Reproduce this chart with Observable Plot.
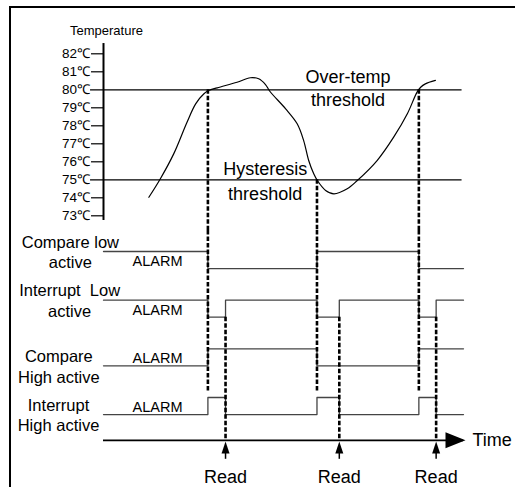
<!DOCTYPE html>
<html><head><meta charset="utf-8">
<script src="https://cdn.jsdelivr.net/npm/d3@7"></script>
<script src="https://cdn.jsdelivr.net/npm/@observablehq/plot@0.6"></script>
<style>
body{margin:0;background:#fff;}
#wrap{position:relative;width:515px;height:487px;overflow:hidden;font-family:"Liberation Sans",Arial,sans-serif;background:#fff;}
#frame{position:absolute;left:9px;top:6px;width:600px;height:600px;border-left:2px solid #000;border-top:2px solid #000;}
#top,#bottom{position:absolute;left:0;}
#top{top:0}
#bottom{top:230px}
svg text{white-space:pre;}
</style></head><body>
<div id="wrap"><div id="frame"></div><div id="top"></div><div id="bottom"></div></div>
<script>
// ---------- data ----------
const tempTicks = [73, 74, 75, 76, 77, 78, 79, 80, 81, 82];
const thresholdValues = [80, 75];
const thresholdNames = ["Over-temp\nthreshold", "Hysteresis\nthreshold"];
const curveTime = [12.6, 15.8, 19.5, 23.2, 25.6, 27.9, 29.2, 31.6, 37.1, 40.8, 43.1, 45.0, 46.2, 50.6, 53.8, 55.6, 57.0, 58.4, 59.4, 61.7, 64.0, 67.7, 70.5, 76.0, 80.6, 84.4, 87.1, 88.1, 89.4, 92.2];
const curveTemp = [74.03, 75.06, 76.44, 78.2, 79.22, 79.78, 79.96, 80.11, 80.42, 80.67, 80.61, 80.29, 79.92, 78.94, 78.11, 77.18, 76.07, 75.33, 74.96, 74.41, 74.22, 74.5, 74.96, 76.07, 77.37, 78.67, 79.87, 80.14, 80.33, 80.52];
const crossTimes = [29.0, 59.3, 87.6];
const crossTemps = [80, 75, 80];
const readTimes = [33.9, 65.5, 92.4];
const stepTimes = [0, 29.0, 33.9, 59.3, 65.5, 87.6, 92.4, 100];
const laneNames = ["Compare low\nactive", "Interrupt  Low\nactive", "Compare\nHigh active", "Interrupt\nHigh active"];
const compareLow    = [1, 0, 0, 1, 1, 0, 0, 0];
const interruptLow  = [1, 0, 1, 0, 1, 0, 1, 1];
const compareHigh   = [0, 1, 1, 0, 0, 1, 1, 1];
const interruptHigh = [0, 1, 0, 1, 0, 1, 0, 0];
const alarmText = "ALARM";

// ---------- layout ----------
const FONT = '"Liberation Sans", Arial, sans-serif';
const TOP_H = 230, BOT_H = 257;
const X = {domain: [0, 100], range: [103, 463], axis: null};
const T_PX = 18; // px per degree
const T_BOTTOM = 80 - (TOP_H - 89.3) / T_PX;
const AMP = 0.35;
const AXIS_Y = 3.88;
const LANE_TOP = -21 / 48.67;
const laneLabelX = [-9.2, -9.4, -12.4, -12.5];
const style = {background: "transparent", overflow: "visible", fontFamily: FONT, color: "#000"};

const curve = curveTime.map((t, i) => ({t, temp: curveTemp[i]}));
const thresholds = thresholdValues.map((v, i) => ({value: v, name: thresholdNames[i]}));
const crossings = crossTimes.map((t, i) => ({t, temp: crossTemps[i]}));
const laneLevels = [compareLow, interruptLow, compareHigh, interruptHigh];
const lanes = laneLevels.flatMap((lv, i) => stepTimes.map((t, j) => ({lane: i, t, y: i + (1 - lv[j]) * AMP})));
const laneInfo = laneNames.map((name, i) => ({name, i, y0: i + (1 - laneLevels[i][0]) * AMP}));

const topPlot = Plot.plot({
  width: 515, height: TOP_H, margin: 0,
  x: X,
  y: {domain: [80, 75], range: [89.3, 179.3], axis: null},
  style,
  marks: [
    Plot.text(["Temperature"], {x: 0.83, y: 83.25, text: d => d, fontSize: 13, textAnchor: "middle"}),
    Plot.ruleX([0], {y1: 82.57, y2: 72.74, strokeWidth: 2}),
    Plot.ruleY(tempTicks.filter(d => !thresholdValues.includes(d)), {y: d => d, x1: -3.33, x2: 0, strokeWidth: 1.2}),
    Plot.text(tempTicks, {x: -3.75, y: d => d, text: d => d + "\u2103", textAnchor: "end", fontSize: 13.5}),
    Plot.ruleY(thresholds, {y: "value", x1: -3.6, x2: 99.6, strokeWidth: 1.2}),
    Plot.line(curve, {x: "t", y: "temp", curve: "catmull-rom", strokeWidth: 1.2}),
    Plot.ruleX(crossings, {x: "t", y1: "temp", y2: T_BOTTOM, strokeWidth: 2.6, strokeDasharray: "4.5,2"}),
    Plot.text([thresholds[0]], {x: 67.9, y: "value", text: "name", fontSize: 18, lineHeight: 1.32, dy: -3}),
    Plot.text([thresholds[1]], {x: 44.9, y: "value", text: "name", fontSize: 18, lineHeight: 1.38, dy: 0})
  ]
});
document.getElementById("top").appendChild(topPlot);

const botPlot = Plot.plot({
  width: 515, height: BOT_H, margin: 0,
  x: X,
  y: {domain: [0, 3], range: [21, 167], axis: null},
  style,
  marks: [
    Plot.line(lanes, {x: "t", y: "y", z: "lane", curve: "step-after", stroke: "#444", strokeWidth: 1.3}),
    Plot.ruleX(crossTimes, {x: d => d, y1: LANE_TOP, y2: 2.9, strokeWidth: 2.6, strokeDasharray: "4.5,2"}),
    Plot.ruleX(readTimes, {x: d => d, y1: 1 + AMP, y2: AXIS_Y, strokeWidth: 2.6, strokeDasharray: "4.5,2"}),
    Plot.ruleY([AXIS_Y], {x1: 0, x2: 100, strokeWidth: 1.6}),
    Plot.vector([AXIS_Y], {x: 95, y: d => d, length: 20, r: 8, rotate: 90, shape: "spike", fill: "black", stroke: "none", anchor: "start"}),
    Plot.ruleX(readTimes, {x: d => d, y1: 4.15, y2: 4.27, strokeWidth: 1.5}),
    Plot.vector(readTimes, {x: d => d, y: 4.15, length: 12, r: 4, rotate: 0, shape: "spike", fill: "black", stroke: "none", anchor: "start"}),
    Plot.text(laneInfo, {x: d => laneLabelX[d.i], y: "y0", text: "name", fontSize: 16.5, lineHeight: 1.25, textAnchor: "middle"}),
    Plot.text(laneInfo, {x: 15, y: d => d.i + 0.2, text: () => alarmText, fontSize: 14.5, textAnchor: "middle"}),
    Plot.text(readTimes, {x: d => d, y: 4.644, text: () => "Read", fontSize: 18, textAnchor: "middle"}),
    Plot.text(["Time"], {x: 102.5, y: AXIS_Y, text: d => d, fontSize: 18, textAnchor: "start"})
  ]
});
document.getElementById("bottom").appendChild(botPlot);
</script></body></html>
